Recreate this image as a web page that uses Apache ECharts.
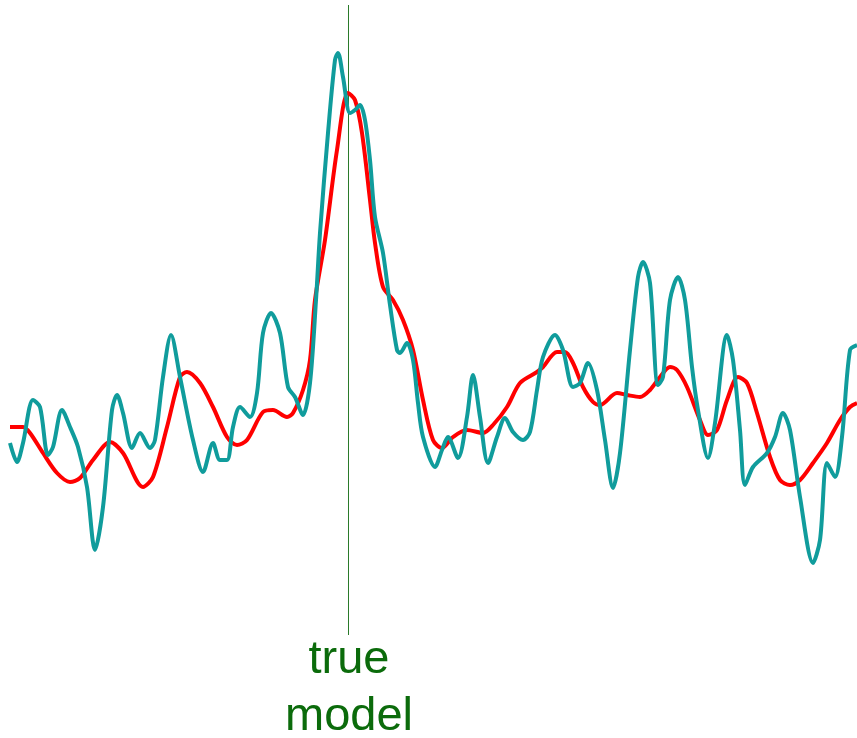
<!DOCTYPE html>
<html>
<head>
<meta charset="utf-8">
<script src="https://cdn.jsdelivr.net/npm/echarts@6/dist/echarts.min.js"></script>
<style>html,body{margin:0;padding:0;background:#fff}#c{width:857px;height:738px}</style>
</head>
<body>
<div id="c"></div>
<script>
// Values (horizontal position, vertical level; level grows downward)
const redX = [10,23,30,43,57,70,80,93,110,123,143,153,167,180,187,200,213,227,237,247,263,273,287,293,303,310,315,325,337,348,355,362,370,375,383,393,403,413,423,433,442,453,467,483,493,507,520,537,543,557,565,573,583,593,600,617,627,640,650,660,670,677,687,700,708,717,727,738,747,757,770,780,790,800,813,827,840,850,857];
const redY = [427,427,433,453,473,482,478,460,442,453,487,477,427,377,372,383,407,437,445,440,412,410,417,413,390,360,300,240,150,93,100,133,200,243,287,300,320,350,400,440,448,437,430,433,425,407,383,372,367,352,352,363,387,402,405,393,395,397,390,377,367,370,387,420,435,430,400,377,383,413,457,480,485,480,463,443,420,407,403];
const tealX = [10,17,23,33,40,48,53,62,70,78,87,95,103,112,117,123,132,140,150,155,163,171,180,193,203,213,220,227,233,240,250,257,263,271,280,288,295,303,310,316,320,328,335,338,343,350,355,360,365,370,375,383,390,397,400,407,413,418,423,435,442,448,458,467,473,480,488,497,505,513,523,530,537,543,555,563,573,580,588,597,605,613,620,630,638,643,650,658,663,670,678,685,692,698,708,715,727,733,740,745,753,767,775,783,790,800,813,820,827,835,842,850,857];
const tealY = [443,462,443,400,407,455,447,410,427,447,487,550,507,410,395,413,448,433,448,440,377,335,377,440,472,443,460,460,427,407,417,393,333,313,333,387,397,415,383,300,233,133,60,53,77,113,110,105,120,160,217,253,305,350,353,343,360,403,437,467,450,437,458,417,375,417,463,437,418,432,440,432,390,357,335,350,387,383,363,390,440,488,453,350,277,262,283,385,377,300,277,300,367,410,458,423,335,360,430,485,467,453,437,413,430,497,563,540,463,477,437,350,345];
const markerX = 348.5;
const markerSpan = [5, 635];
const labelLines = ['true', 'model'];

const zip = (xs, ys) => xs.map((x, i) => [x, ys[i]]);

const chart = echarts.init(document.getElementById('c'), null, {renderer: 'canvas'});
chart.setOption({
  animation: false,
  backgroundColor: '#ffffff',
  grid: {left: 0, right: 0, top: 0, bottom: 0},
  xAxis: {type: 'value', min: 0, max: 857, show: false},
  yAxis: {type: 'value', min: 0, max: 738, inverse: true, show: false},
  series: [
    {
      type: 'line',
      data: [[markerX, markerSpan[0]], [markerX, markerSpan[1]]],
      symbol: 'none',
      lineStyle: {color: '#2a7a2a', width: 1},
      z: 1
    },
    {
      type: 'line',
      data: zip(redX, redY),
      symbol: 'none',
      smooth: 0.3,
      lineStyle: {color: '#ff0000', width: 4},
      z: 2
    },
    {
      type: 'line',
      data: zip(tealX, tealY),
      symbol: 'none',
      smooth: 0.3,
      lineStyle: {color: '#109c9c', width: 4},
      z: 3
    }
  ],
  graphic: [
    {
      type: 'text',
      x: 349, y: 637,
      style: {text: labelLines[0], font: '47px "Liberation Sans", Arial, sans-serif', fill: '#0b6b0b', textAlign: 'center', verticalAlign: 'top'}
    },
    {
      type: 'text',
      x: 349, y: 694,
      style: {text: labelLines[1], font: '47px "Liberation Sans", Arial, sans-serif', fill: '#0b6b0b', textAlign: 'center', verticalAlign: 'top'}
    }
  ]
});
</script>
</body>
</html>
